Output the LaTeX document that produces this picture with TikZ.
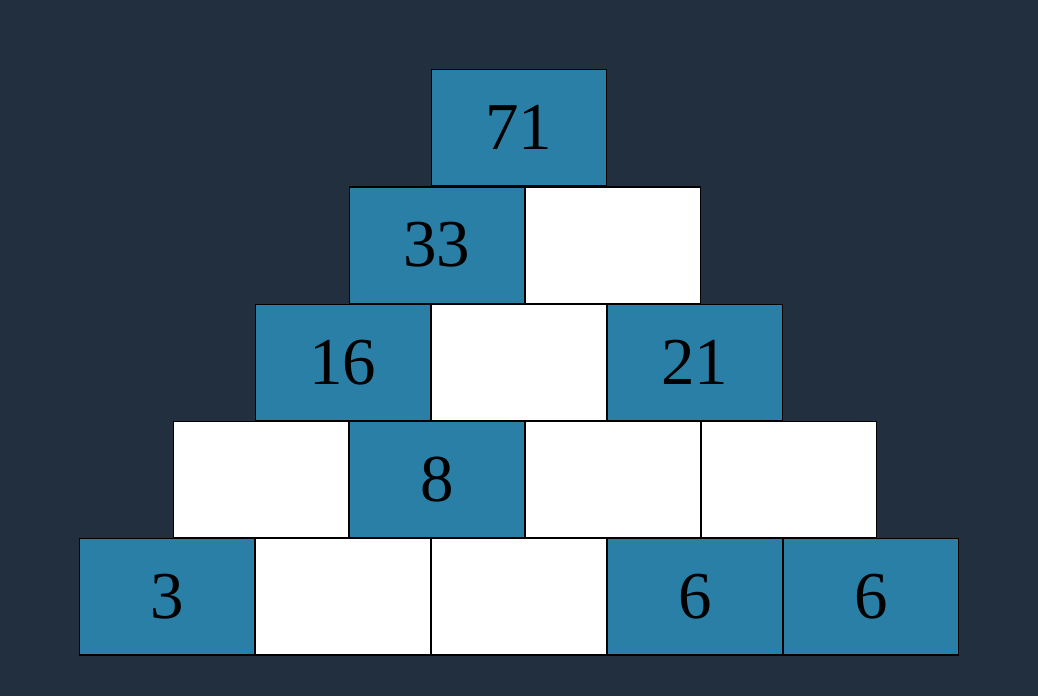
\documentclass[tikz,border=0pt]{standalone}
\usepackage{fontspec}
\setmainfont{Liberation Serif}
\definecolor{bg}{HTML}{222F3E}
\definecolor{cellblue}{HTML}{2A7FA7}
\begin{document}
\begin{tikzpicture}[x=1pt,y=-1pt,
  cell/.style={draw=black,line width=1.5pt,anchor=north west,minimum width=175pt,minimum height=116.5pt,inner sep=0pt,font=\fontsize{67}{67}\selectfont,text=black},
  bluecell/.style={cell,fill=cellblue},
  whitecell/.style={cell,fill=white}]
\fill[bg] (0,0) rectangle (1038,696);
\useasboundingbox (0,0) rectangle (1038,696);
% row 1
\node[bluecell] (r1c1) at (430.5,68.5) {71};
% row 2
\node[bluecell] (r2c1) at (348.5,186) {33};
\node[whitecell] (r2c2) at (524.5,186) {};
% row 3
\node[bluecell] (r3c1) at (254.5,303.5) {16};
\node[whitecell] (r3c2) at (430.5,303.5) {};
\node[bluecell] (r3c3) at (606.5,303.5) {21};
% row 4
\node[whitecell] (r4c1) at (172.5,420.5) {};
\node[bluecell] (r4c2) at (348.5,420.5) {8};
\node[whitecell] (r4c3) at (524.5,420.5) {};
\node[whitecell] (r4c4) at (700.5,420.5) {};
% row 5
\node[bluecell] (r5c1) at (78.5,537.5) {3};
\node[whitecell] (r5c2) at (254.5,537.5) {};
\node[whitecell] (r5c3) at (430.5,537.5) {};
\node[bluecell] (r5c4) at (606.5,537.5) {6};
\node[bluecell] (r5c5) at (782.5,537.5) {6};
\end{tikzpicture}
\end{document}
